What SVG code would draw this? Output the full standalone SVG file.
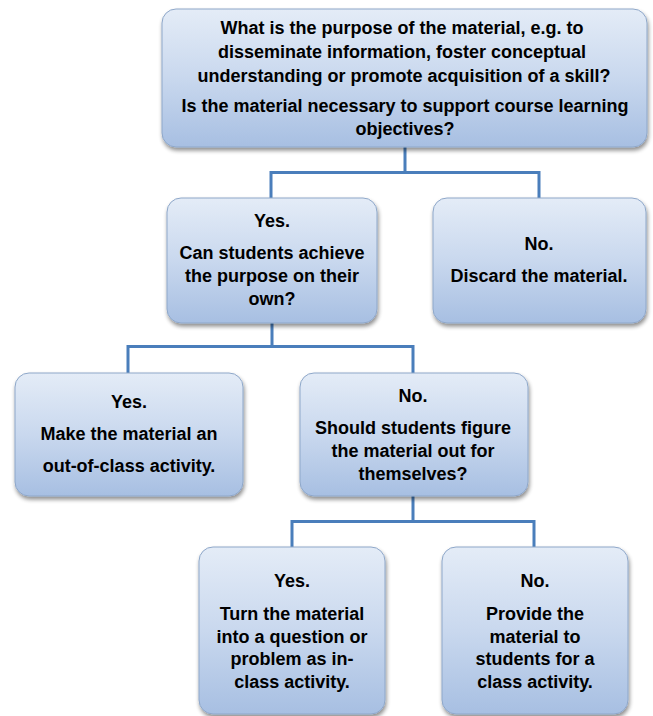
<svg xmlns="http://www.w3.org/2000/svg" width="653" height="716" viewBox="0 0 653 716">
  <defs>
    <linearGradient id="boxGrad" x1="0" y1="0" x2="0" y2="1">
      <stop offset="0" stop-color="#e4ecf7"/>
      <stop offset="0.5" stop-color="#c9d8ee"/>
      <stop offset="1" stop-color="#a7bfe2"/>
    </linearGradient>
    <filter id="shadow" x="-10%" y="-10%" width="120%" height="130%">
      <feGaussianBlur in="SourceAlpha" stdDeviation="2"/>
      <feOffset dx="1" dy="3" result="b"/>
      <feComponentTransfer><feFuncA type="linear" slope="0.45"/></feComponentTransfer>
      <feMerge><feMergeNode/><feMergeNode in="SourceGraphic"/></feMerge>
    </filter>
  </defs>
  <style>
    .box { fill: url(#boxGrad); stroke: #8ea7c9; stroke-width: 1; filter: url(#shadow); }
    .t { font-family: "Liberation Sans", Arial, sans-serif; font-weight: bold; font-size: 18px; fill: #000; text-anchor: middle; }
    .conn { fill: none; stroke: #4a7ebb; stroke-width: 3; }
  </style>
  <rect width="653" height="716" fill="#ffffff"/>

  <g id="connectors">
    <path class="conn" d="M405 147 V172.5 M271 198 V172.5 H539 V198"/>
    <path class="conn" d="M272 323 V346.5 M128 373 V346.5 H413 V373"/>
    <path class="conn" d="M413 496 V521.5 M292 547 V521.5 H534 V547"/>
  </g>

  <g id="node-purpose">
    <rect class="box" x="162" y="9" width="485" height="138" rx="14"/>
    <text class="t" x="402" y="34">What is the purpose of the material, e.g. to</text>
    <text class="t" x="402" y="58">disseminate information, foster conceptual</text>
    <text class="t" x="404" y="82">understanding or promote acquisition of a skill?</text>
    <text class="t" x="405" y="112">Is the material necessary to support course learning</text>
    <text class="t" x="405" y="135">objectives?</text>
  </g>

  <g id="node-yes1">
    <rect class="box" x="167" y="198" width="210" height="125" rx="14"/>
    <text class="t" x="272" y="227">Yes.</text>
    <text class="t" x="272" y="259">Can students achieve</text>
    <text class="t" x="272" y="282">the purpose on their</text>
    <text class="t" x="272" y="305">own?</text>
  </g>

  <g id="node-no1">
    <rect class="box" x="433" y="198" width="213" height="125" rx="14"/>
    <text class="t" x="539" y="250">No.</text>
    <text class="t" x="539" y="282">Discard the material.</text>
  </g>

  <g id="node-yes2">
    <rect class="box" x="15" y="373" width="228" height="123" rx="14"/>
    <text class="t" x="129" y="408">Yes.</text>
    <text class="t" x="129" y="440">Make the material an</text>
    <text class="t" x="129" y="472">out-of-class activity.</text>
  </g>

  <g id="node-no2">
    <rect class="box" x="300" y="373" width="228" height="123" rx="14"/>
    <text class="t" x="413" y="402">No.</text>
    <text class="t" x="413" y="434">Should students figure</text>
    <text class="t" x="413" y="457">the material out for</text>
    <text class="t" x="413" y="480">themselves?</text>
  </g>

  <g id="node-yes3">
    <rect class="box" x="199" y="547" width="186" height="167" rx="14"/>
    <text class="t" x="292" y="587">Yes.</text>
    <text class="t" x="292" y="620">Turn the material</text>
    <text class="t" x="292" y="643">into a question or</text>
    <text class="t" x="292" y="665">problem as in-</text>
    <text class="t" x="292" y="688">class activity.</text>
  </g>

  <g id="node-no3">
    <rect class="box" x="442" y="547" width="186" height="167" rx="14"/>
    <text class="t" x="535" y="587">No.</text>
    <text class="t" x="535" y="620">Provide the</text>
    <text class="t" x="535" y="643">material to</text>
    <text class="t" x="535" y="665">students for a</text>
    <text class="t" x="535" y="688">class activity.</text>
  </g>
</svg>
